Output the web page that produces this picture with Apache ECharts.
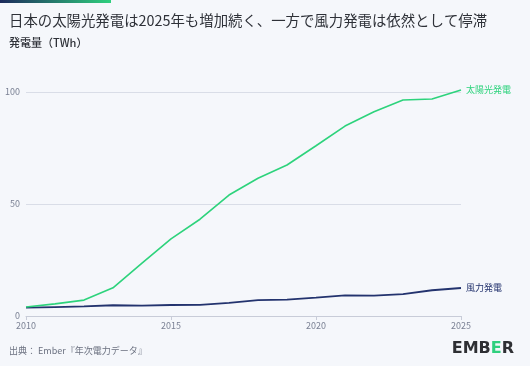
<!DOCTYPE html>
<html><head><meta charset="utf-8">
<script src="https://cdn.jsdelivr.net/npm/echarts@6/dist/echarts.min.js"></script>
<style>html,body{margin:0;padding:0;background:#f5f7fb;}#c{width:530px;height:366px;}</style>
</head><body><div id="c"></div>
<script>
const years = [2010,2011,2012,2013,2014,2015,2016,2017,2018,2019,2020,2021,2022,2023,2024,2025];
const solar = [4.0,5.4,7.1,12.6,23.6,34.4,43.2,54.0,61.5,67.4,76.0,84.8,91.2,96.4,96.9,100.9];
const wind = [3.7,4.0,4.3,4.8,4.6,4.9,5.0,5.9,7.1,7.3,8.2,9.2,9.1,9.8,11.5,12.5];
const seriesNames = ['太陽光発電','風力発電'];
const yTicks = [0,50,100];
const xTicks = [2010,2015,2020,2025];

const FONT = '"Noto Sans CJK JP", "Noto Sans", sans-serif';
const chart = echarts.init(document.getElementById('c'), null, {renderer:'canvas'});
const pair = (arr) => years.map((y,i)=>[y,arr[i]]);
chart.setOption({
  backgroundColor:'#f5f7fb',
  animation:false,
  textStyle:{fontFamily:FONT},
  grid:{left:26,right:69,top:92,bottom:50},
  graphic:[
    {type:'rect',left:0,top:0,shape:{width:111,height:3},style:{fill:new echarts.graphic.LinearGradient(0,0,1,0,[{offset:0,color:'#1c2a5c'},{offset:1,color:'#2fd07e'}])}},
    {type:'text',left:9,top:13,style:{text:'日本の太陽光発電は2025年も増加続く、一方で風力発電は依然として停滞',font:'normal 14.4px '+FONT,fill:'#2e3138'}},
    {type:'text',left:9,top:37,style:{text:'発電量（TWh）',font:'500 11px '+FONT,fill:'#2e3138'}},
    {type:'text',left:9,top:346,style:{text:'出典： Ember『年次電力データ』',font:'9px '+FONT,fill:'#6b7180'}},
    {type:'text',right:16,top:341,style:{text:'{a|EMB}{b|E}{a|R}',rich:{a:{font:'bold 16px "DejaVu Sans", sans-serif',fill:'#2e2f33'},b:{font:'bold 16px "DejaVu Sans", sans-serif',fill:'#2fd07e'}}}}
  ],
  xAxis:{type:'value',min:2010,max:2025,interval:5,
    axisLine:{show:true,lineStyle:{color:'#c8ccd8'}},
    axisTick:{show:true,length:4,lineStyle:{color:'#c8ccd8'}},
    splitLine:{show:false},
    axisLabel:{color:'#7a8194',fontSize:9,margin:5,formatter:(v)=>xTicks.includes(v)?String(v):''}},
  yAxis:{type:'value',min:0,max:100,interval:50,
    axisLine:{show:false},axisTick:{show:false},
    splitLine:{lineStyle:{color:'#d9dde7'}},
    axisLabel:{color:'#7a8194',fontSize:9,margin:6,formatter:(v)=>yTicks.includes(v)?String(v):''}},
  series:[
    {name:seriesNames[0],type:'line',data:pair(solar),symbol:'none',clip:false,z:3,
     lineStyle:{color:'#2dd37c',width:1.6},itemStyle:{color:'#2dd37c'},
     endLabel:{show:true,formatter:seriesNames[0],color:'#2dd37c',fontSize:9,distance:5,fontFamily:FONT}},
    {name:seriesNames[1],type:'line',data:pair(wind),symbol:'none',clip:false,z:2,
     lineStyle:{color:'#23336e',width:1.8},itemStyle:{color:'#23336e'},
     endLabel:{show:true,formatter:seriesNames[1],color:'#23336e',fontSize:9,distance:5,fontFamily:FONT}}
  ]
});
</script></body></html>
